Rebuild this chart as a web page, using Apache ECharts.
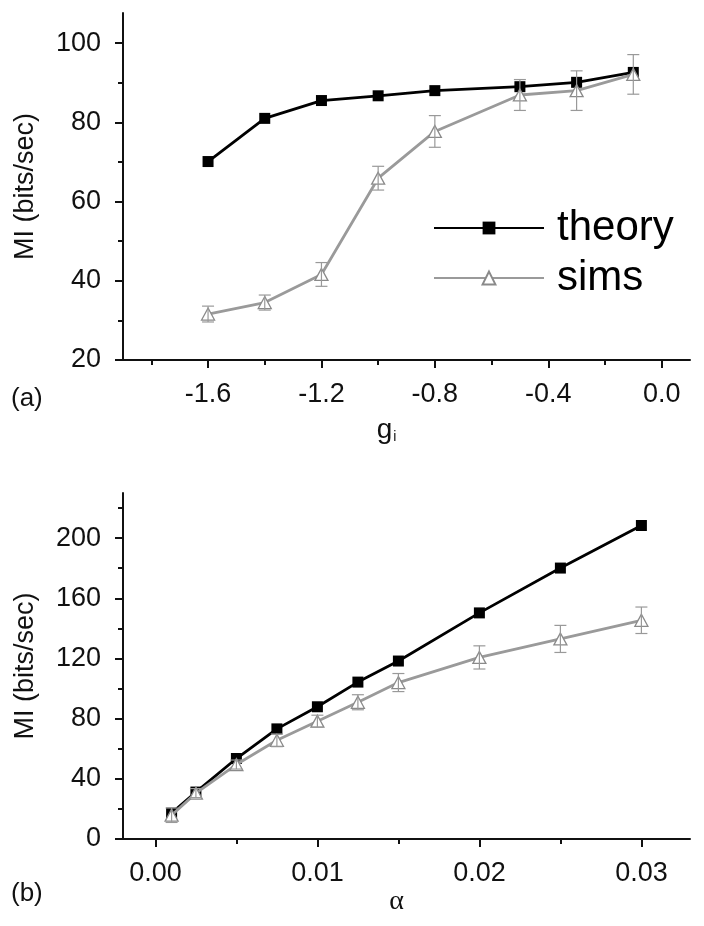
<!DOCTYPE html>
<html>
<head>
<meta charset="utf-8">
<script src="https://cdn.jsdelivr.net/npm/echarts@6/dist/echarts.min.js"></script>
<style>
html,body{margin:0;padding:0;background:#fff;}
#chart{width:704px;height:926px;}
</style>
</head>
<body>
<div id="chart"></div>
<script>
// ---- Panel (a) data ----
const gi = [-1.6, -1.4, -1.2, -1.0, -0.8, -0.5, -0.3, -0.1];
const theoryA = [70.1, 81.0, 85.5, 86.7, 88.0, 89.0, 90.1, 92.6];
const simsA = [31.6, 34.5, 41.6, 65.9, 77.7, 86.9, 88.0, 92.1];
const simsAErr = [2.0, 1.9, 3.0, 3.0, 4.0, 3.9, 5.0, 5.0];

// ---- Panel (b) data ----
const alpha = [0.001, 0.0025, 0.005, 0.0075, 0.01, 0.0125, 0.015, 0.02, 0.025, 0.03];
const theoryB = [17.2, 31.2, 53.5, 73.2, 87.9, 104.3, 118.3, 150.3, 180.1, 208.4];
const simsB = [15.8, 30.5, 49.5, 65.6, 78.3, 90.9, 104.0, 120.7, 133.0, 145.4];
const simsBErr = [4.8, 3.0, 3.0, 4.2, 4.0, 5.0, 6.0, 7.7, 9.0, 8.8];

// ---- Tick labels / positions ----
const aXMajor = [-1.6, -1.2, -0.8, -0.4, 0.0];
const aXMinor = [-1.8, -1.4, -1.0, -0.6, -0.2];
const aYMajor = [20, 40, 60, 80, 100];
const aYMinor = [30, 50, 70, 90];
const bXMajor = [0.00, 0.01, 0.02, 0.03];
const bXMinor = [0.005, 0.015, 0.025];
const bYMajor = [0, 40, 80, 120, 160, 200];
const bYMinor = [20, 60, 100, 140, 180, 220];

const FONT = '"Liberation Sans", Arial, Helvetica, sans-serif';
const AX = '#111';
const LABEL_SIZE = 27;

// axis carrying the line, labels and name (no ticks)
function labelAxis(opts, values, fmt, margin) {
  return Object.assign({
    type: 'value',
    axisLine: { show: true, onZero: false, lineStyle: { color: AX, width: 2 } },
    axisTick: { show: false },
    axisLabel: { show: true, customValues: values, color: AX, fontSize: LABEL_SIZE, fontFamily: FONT,
      margin: margin, formatter: fmt },
    splitLine: { show: false }
  }, opts);
}
// tick-only overlay axis
function tickAxis(opts, values, len) {
  return Object.assign({
    type: 'value',
    axisLine: { show: false, onZero: false },
    axisTick: { show: true, inside: false, length: len, customValues: values, lineStyle: { color: AX, width: 2 } },
    axisLabel: { show: false },
    splitLine: { show: false }
  }, opts);
}

function errData(xs, ys, es) {
  return xs.map((x, i) => [x, ys[i] - es[i], ys[i] + es[i]]);
}
function renderErr(params, api) {
  const x = api.value(0), lo = api.value(1), hi = api.value(2);
  const pLo = api.coord([x, lo]);
  const pHi = api.coord([x, hi]);
  const w = 6;
  const st = { stroke: '#999', lineWidth: 1.2 };
  return {
    type: 'group',
    children: [
      { type: 'line', shape: { x1: pLo[0], y1: pLo[1], x2: pHi[0], y2: pHi[1] }, style: st },
      { type: 'line', shape: { x1: pLo[0] - w, y1: pLo[1], x2: pLo[0] + w, y2: pLo[1] }, style: st },
      { type: 'line', shape: { x1: pHi[0] - w, y1: pHi[1], x2: pHi[0] + w, y2: pHi[1] }, style: st }
    ]
  };
}
function zip(xs, ys) { return xs.map((x, i) => [x, ys[i]]); }

const theoryStyle = {
  type: 'line', name: 'theory', symbol: 'rect', symbolSize: 11,
  lineStyle: { color: '#000', width: 2.8 },
  itemStyle: { color: '#000', borderColor: '#000', borderWidth: 0 },
  z: 3, animation: false
};
const simsStyle = {
  type: 'line', name: 'sims', symbol: 'triangle', symbolSize: [13, 12],
  lineStyle: { color: '#9a9a9a', width: 2.8 },
  itemStyle: { color: '#fff', borderColor: '#8a8a8a', borderWidth: 1.3 },
  z: 4, animation: false
};

const fmt1 = v => v.toFixed(1);
const fmt2 = v => v.toFixed(2);
const fmt0 = v => String(v);

const chart = echarts.init(document.getElementById('chart'), null, { renderer: 'canvas' });
chart.setOption({
  backgroundColor: '#fff',
  animation: false,
  grid: [
    { left: 123, right: 14, top: 13, height: 347 },
    { left: 123, right: 14, top: 493, height: 346 }
  ],
  legend: {
    data: ['theory', 'sims'],
    orient: 'vertical',
    left: 433, top: 207, padding: 0,
    itemWidth: 110, itemHeight: 16, itemGap: 8,
    textStyle: { fontSize: 42, fontFamily: FONT, color: '#000', lineHeight: 42, padding: [0, 0, 0, 8] },
    selectedMode: false
  },
  xAxis: [
    labelAxis({
      gridIndex: 0, min: -1.9, max: 0.1, position: 'bottom',
      name: '{g|g}{s|i}', nameLocation: 'middle', nameGap: 56,
      nameTextStyle: { rich: { g: { fontSize: 28, fontFamily: FONT, color: AX }, s: { fontSize: 14, fontFamily: FONT, color: AX, verticalAlign: 'bottom', padding: [14, 0, 0, 1] } }, padding: [0, 40, 0, 0] }
    }, aXMajor, fmt1, 21),
    tickAxis({ gridIndex: 0, min: -1.9, max: 0.1, position: 'bottom' }, aXMajor, 8),
    tickAxis({ gridIndex: 0, min: -1.9, max: 0.1, position: 'bottom' }, aXMinor, 5),
    labelAxis({
      gridIndex: 1, min: -0.002, max: 0.033, position: 'bottom',
      name: 'α', nameLocation: 'middle', nameGap: 38,
      nameTextStyle: { fontSize: 28, fontFamily: '"Liberation Serif", "Times New Roman", serif', color: AX, padding: [0, 20, 0, 0] }
    }, bXMajor, fmt2, 21),
    tickAxis({ gridIndex: 1, min: -0.002, max: 0.033, position: 'bottom' }, bXMajor, 8),
    tickAxis({ gridIndex: 1, min: -0.002, max: 0.033, position: 'bottom' }, bXMinor, 5)
  ],
  yAxis: [
    labelAxis({
      gridIndex: 0, min: 20, max: 107.6, position: 'left',
      name: 'MI (bits/sec)', nameLocation: 'middle', nameGap: 84,
      nameTextStyle: { fontSize: 27, fontFamily: FONT, color: AX }
    }, aYMajor, fmt0, 22),
    tickAxis({ gridIndex: 0, min: 20, max: 107.6, position: 'left' }, aYMajor, 8),
    tickAxis({ gridIndex: 0, min: 20, max: 107.6, position: 'left' }, aYMinor, 5),
    labelAxis({
      gridIndex: 1, min: 0, max: 230, position: 'left',
      name: 'MI (bits/sec)', nameLocation: 'middle', nameGap: 84,
      nameTextStyle: { fontSize: 27, fontFamily: FONT, color: AX }
    }, bYMajor, fmt0, 22),
    tickAxis({ gridIndex: 1, min: 0, max: 230, position: 'left' }, bYMajor, 8),
    tickAxis({ gridIndex: 1, min: 0, max: 230, position: 'left' }, bYMinor, 5)
  ],
  graphic: [
    { type: 'text', left: 11, top: 386, style: { text: '(a)', fontSize: 26, fontFamily: FONT, fill: AX } },
    { type: 'text', left: 11, top: 881, style: { text: '(b)', fontSize: 26, fontFamily: FONT, fill: AX } }
  ],
  series: [
    Object.assign({}, theoryStyle, { xAxisIndex: 0, yAxisIndex: 0, data: zip(gi, theoryA) }),
    Object.assign({}, simsStyle, { xAxisIndex: 0, yAxisIndex: 0, data: zip(gi, simsA) }),
    { type: 'custom', name: 'errA', xAxisIndex: 0, yAxisIndex: 0, renderItem: renderErr,
      data: errData(gi, simsA, simsAErr), z: 5, silent: true, animation: false },
    Object.assign({}, theoryStyle, { xAxisIndex: 3, yAxisIndex: 3, data: zip(alpha, theoryB) }),
    Object.assign({}, simsStyle, { xAxisIndex: 3, yAxisIndex: 3, data: zip(alpha, simsB) }),
    { type: 'custom', name: 'errB', xAxisIndex: 3, yAxisIndex: 3, renderItem: renderErr,
      data: errData(alpha, simsB, simsBErr), z: 5, silent: true, animation: false }
  ]
});
</script>
</body>
</html>
